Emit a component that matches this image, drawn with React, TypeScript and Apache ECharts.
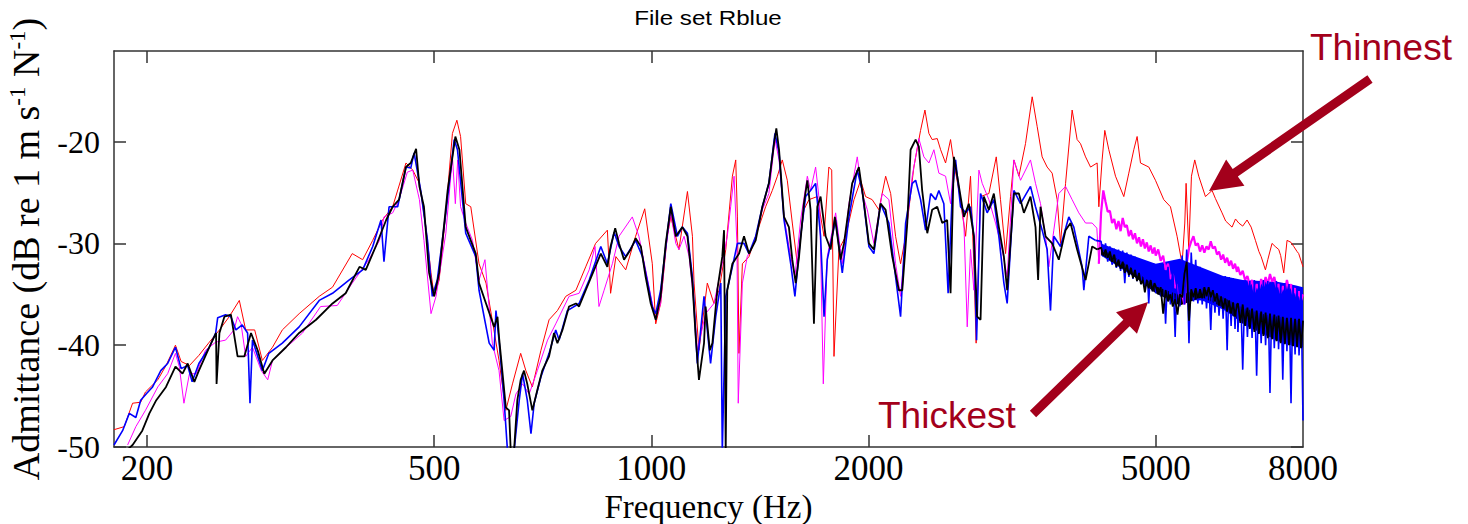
import React, { useEffect, useRef } from "react";
import * as echarts from "echarts";

// ---- axis values ----
const xTickValues = [200, 500, 1000, 2000, 5000];
const xLabelValues = [200, 500, 1000, 2000, 5000, 8000];
const yTickValues = [-50, -40, -30, -20];

// ---- series: [frequency Hz, admittance dB] ----
const redLow: [number, number][] = [
  [180, -48.3], [186, -48.0], [191, -45.7], [196, -45.6], [199, -44.6], [207, -43.4], [212.5, -42.0], [219, -40.0],
  [223, -41.6], [229, -42.0], [236, -41.0], [244, -39.7], [252, -38.5], [260, -37.2], [268.5, -35.6], [274, -38.5],
  [282, -38.5], [289, -41.5], [298.5, -40.2], [308, -38.5], [325, -36.9], [346.5, -35.2], [361.5, -34.3], [385, -31.0],
  [398, -31.6], [411, -29.7], [424, -27.7], [438, -26.4], [457, -22.1], [467, -22.8], [477, -24.1], [487, -28.4],
  [495, -32.9], [500, -35.2], [508, -33.6], [519, -27.0], [530, -19.2], [537.6, -17.9], [544, -19.5], [553, -26.1],
  [562, -26.4], [577, -32.0], [590, -33.9], [615, -41.5], [628.5, -46.4], [642, -43.8], [659, -40.8], [670, -42.5],
  [684, -44.1], [703, -40.5], [721.5, -37.5], [741, -36.6], [761, -35.2], [786, -34.6], [811, -32.3], [837, -30.0],
  [869, -28.7], [878, -34.9], [893, -31.3], [921.5, -32.6], [951, -29.3], [979, -26.6], [1003, -32.0], [1014, -37.9],
  [1030, -35.9], [1052, -29.3], [1064, -27.4], [1092, -30.6], [1122, -24.9], [1140, -29.3], [1146, -33.9], [1164, -40.5],
  [1195.5, -33.9], [1221, -35.9], [1241, -34.6], [1268, -30.6], [1295, -23.4], [1309, -21.8], [1316, -27.4], [1322.6, -40.8],
  [1337, -32.0], [1365.5, -31.3], [1395, -29.3], [1440, -26.4], [1471, -24.8], [1495, -23.4], [1518.5, -21.8], [1543, -23.8],
  [1568, -28.0], [1593, -32.0], [1627, -26.7], [1653.5, -25.7], [1698, -25.4], [1735, -29.3], [1762, -22.5], [1778, -22.8],
  [1791, -41.1], [1819.5, -30.6], [1859, -29.3], [1909, -25.7], [1950, -23.8], [1981, -25.4], [2023, -25.7], [2067, -26.7],
  [2112, -23.4], [2146, -25.1], [2180, -29.3], [2215, -32.0], [2251, -29.3], [2311, -22.5], [2361, -18.9], [2394, -16.9],
  [2424.5, -19.2], [2450, -19.8], [2490, -19.7], [2517, -20.8], [2557, -22.1], [2598, -19.8], [2626, -22.1], [2668, -24.8],
  [2726, -29.3], [2769, -23.4], [2799, -32.3], [2819, -39.8], [2859, -25.4], [2936, -25.1], [3006, -21.5], [3047, -25.7],
  [3096.5, -31.0], [3146, -25.4], [3180, -21.8], [3231, -23.4], [3300, -20.2], [3371, -15.6], [3425, -18.5], [3480, -21.5],
  [3536, -22.5], [3593, -23.1], [3651, -25.7], [3690, -30.0], [3750, -24.1], [3829.5, -16.9], [3891, -19.8], [3933, -20.2],
  [3997, -21.5], [4061, -22.5], [4147.5, -22.1], [4170, -26.4], [4214, -21.8], [4250, -18.9], [4305, -20.8], [4398, -23.4],
  [4516, -25.4], [4588.5, -23.1], [4662, -20.8], [4712, -19.5], [4763, -22.1], [4891, -22.5], [4996, -23.8], [5130, -25.7],
  [5241, -26.4], [5353, -29.3], [5439, -32.0], [5486, -28.0], [5509, -24.1], [5556, -30.6], [5604, -23.4], [5663, -21.8],
  [5736, -23.4], [5860, -25.4], [5985, -24.8], [6050, -25.6], [6179, -27.0], [6250, -27.8], [6379, -28.4], [6450, -27.6],
  [6517, -28.0], [6600, -28.3], [6692, -27.7], [6780, -28.4], [6873, -29.7], [6950, -30.8], [7000, -31.3], [7096, -32.6],
  [7150, -31.6], [7247, -30.0], [7320, -30.3], [7404, -30.6], [7450, -31.2], [7523, -32.9], [7603, -29.7], [7700, -29.9],
  [7767, -30.3], [7850, -30.8], [7891, -31.0], [8000, -32.3],
];

const magentaLow: [number, number][] = [
  [188, -49.8], [193, -48.0], [199, -46.4], [207, -44.1], [213.6, -42.8], [219, -40.8], [221.7, -42.1], [225, -45.7],
  [229, -42.8], [234, -42.8], [241, -40.5], [249, -39.7], [257, -39.5], [264, -38.5], [267, -37.2], [270, -37.9],
  [274, -41.1], [280, -40.2], [288, -42.5], [294, -43.4], [298.5, -41.5], [312, -40.2], [328.5, -38.8], [348, -36.2],
  [367, -36.1], [385, -33.9], [406, -31.6], [420, -29.7], [426, -27.4], [438, -27.0], [447, -25.7], [459, -23.0],
  [467, -22.8], [477, -25.7], [484, -29.7], [495, -36.9], [503, -35.2], [519, -29.0], [530, -21.5], [535, -26.1],
  [539, -21.8], [544, -26.4], [553, -28.0], [565, -29.7], [577, -33.6], [588, -31.6], [602, -39.8], [615, -42.5],
  [625, -47.4], [638.5, -47.0], [649, -44.8], [663, -43.8], [677, -44.8], [695, -42.5], [718, -39.5], [737, -37.9],
  [769, -35.2], [794, -34.9], [820, -32.6], [835.5, -30.3], [846, -36.2], [860, -34.6], [883, -32.0], [902, -29.3],
  [941, -27.4], [961, -29.3], [982, -32.6], [1003, -35.9], [1014, -37.5], [1030, -35.9], [1047, -30.6], [1064, -27.0],
  [1081, -30.0], [1092, -30.6], [1110, -29.3], [1128, -31.3], [1146, -35.9], [1158, -40.5], [1189, -36.9], [1221, -35.9],
  [1254, -32.0], [1274, -29.3], [1288, -26.4], [1302, -23.4], [1314, -30.0], [1319.5, -45.7], [1337, -33.9], [1358, -31.3],
  [1387.5, -30.0], [1425, -26.7], [1455, -25.1], [1483.5, -19.8], [1503, -21.8], [1527, -27.4], [1560, -31.3], [1581, -33.3],
  [1610, -27.7], [1645, -23.4], [1662, -24.8], [1689, -22.5], [1711, -26.1], [1731, -43.8], [1753, -31.3], [1800.5, -27.0],
  [1839, -32.0], [1878.5, -26.1], [1929, -21.5], [1960, -25.1], [1992, -26.7], [2034, -30.0], [2089, -25.1], [2134, -25.7],
  [2180, -32.0], [2215, -35.2], [2251, -29.3], [2299, -23.4], [2348, -19.7], [2386, -21.5], [2424.5, -22.1], [2463.5, -20.8],
  [2503, -23.1], [2557, -23.4], [2598, -26.1], [2626, -21.8], [2668, -24.4], [2711, -28.0], [2740, -38.2], [2769, -30.6],
  [2799, -34.6], [2844, -22.8], [2874, -24.1], [2936, -25.7], [2999, -28.0], [3063, -30.6], [3112.5, -33.3], [3180, -21.8],
  [3248, -23.8], [3353, -21.8], [3407, -24.1], [3462, -26.1], [3518, -29.3], [3555, -32.3], [3612, -28.7], [3670, -25.1],
  [3750, -24.4], [3829.5, -25.7], [3912, -27.0], [3997, -28.0], [4082, -28.0], [4143.5, -28.5], [4170, -32.0],
];

const blueLow: [number, number][] = [
  [180, -49.8], [185, -48.4], [189, -46.7], [193, -47.1], [196, -45.4], [200, -44.7], [203.6, -44.1], [209, -42.5],
  [213.6, -41.8], [219, -40.2], [223, -42.3], [227.7, -42.0], [231, -43.6], [236, -41.8], [244, -40.2], [249, -38.8],
  [250.6, -37.3], [257, -37.0], [261.4, -37.2], [265.6, -38.5], [271, -38.0], [275.7, -38.8], [277.8, -45.7], [280, -39.5],
  [289, -42.5], [295, -40.8], [308, -39.8], [325, -38.2], [346.5, -35.6], [361.5, -34.9], [381, -33.6], [398, -32.6],
  [411, -30.3], [422, -27.7], [426, -31.8], [433, -26.4], [445, -26.4], [457, -22.5], [464, -22.6], [469, -21.1],
  [479, -24.8], [489.5, -29.7], [497, -35.2], [505, -33.6], [519, -27.0], [533, -19.8], [538.6, -20.8], [553, -29.0],
  [571, -31.3], [577, -34.6], [596, -39.8], [605.5, -40.5], [609, -36.6], [615, -39.5], [625, -45.4], [632, -50.5],
  [645, -50.5], [656, -45.4], [663, -42.8], [673, -45.4], [681, -48.7], [688, -45.7], [703, -43.1], [721.5, -40.8],
  [737, -38.5], [745, -39.5], [765, -36.6], [794, -35.9], [820, -33.6], [851, -30.3], [869, -32.0], [888, -28.9],
  [902, -30.3], [921.5, -31.3], [951, -29.7], [972, -31.3], [1003, -36.2], [1014, -36.9], [1030, -34.6], [1064, -26.1],
  [1086.5, -29.3], [1104, -28.4], [1122, -29.0], [1140, -33.3], [1158, -41.8], [1183, -35.2], [1208, -41.8], [1228, -37.2],
  [1248, -33.9], [1254, -50.5], [1268, -35.2], [1295, -32.3], [1316, -30.0], [1344, -30.0], [1365.5, -31.0], [1395, -29.3],
  [1425, -26.4], [1455, -24.1], [1483.5, -19.2], [1503, -21.1], [1527, -27.7], [1560, -32.0], [1581, -35.2], [1610, -29.3],
  [1636, -25.4], [1662, -24.8], [1689, -24.1], [1716, -29.3], [1735, -37.2], [1753, -31.6], [1800.5, -27.7], [1839, -32.9],
  [1878.5, -27.4], [1929, -22.8], [1960, -24.8], [2002, -30.3], [2034, -31.0], [2078, -26.1], [2134, -28.0], [2180, -33.3],
  [2215, -37.2], [2251, -28.0], [2299, -24.1], [2324, -23.8], [2361, -25.7], [2399, -28.7], [2438, -25.1], [2477, -25.7],
  [2503, -24.8], [2543, -26.1], [2578, -34.9], [2612, -25.1], [2640, -21.8], [2682, -26.4], [2726, -27.0], [2769, -26.4],
  [2799, -29.3], [2823, -39.5], [2859, -25.1], [2920, -27.0], [2983, -25.7], [3031, -29.3], [3080, -33.9], [3112.5, -35.9],
  [3180, -24.8], [3248, -26.1], [3353, -24.4], [3407, -26.4], [3480, -28.7], [3536, -30.6], [3574, -36.6], [3612, -29.3],
  [3690, -30.3], [3789, -27.4], [3850, -28.4], [3954, -32.3], [3975, -34.6], [4039, -29.3], [4126, -29.7],
];

const blackLow: [number, number][] = [
  [183, -51.0], [191, -49.8], [197, -48.4], [201.5, -46.7], [206, -45.4], [212.5, -44.1], [219, -42.1], [224, -42.8],
  [227.7, -41.8], [232.6, -43.6], [236, -42.5], [244, -40.2], [249.3, -38.8], [249.7, -43.8], [252, -38.8], [256, -37.2],
  [261.4, -37.0], [267, -41.1], [272.8, -41.1], [278.7, -38.8], [284.7, -40.5], [290.8, -42.8], [298.5, -41.5], [311.6, -40.2],
  [325, -38.8], [343, -37.5], [361.5, -35.9], [377, -34.9], [394, -32.3], [402, -32.6], [415, -30.3], [429, -27.7],
  [438, -26.4], [447, -25.7], [457, -22.5], [464, -22.1], [472, -20.7], [477, -24.4], [484, -26.4], [492, -32.9],
  [500, -35.2], [508, -32.9], [522, -24.8], [535, -19.5], [542, -20.8], [553, -28.4], [571, -31.0], [577, -33.9],
  [590, -35.9], [605.5, -38.2], [612, -37.2], [615, -39.2], [622, -42.8], [628.5, -46.1], [635, -46.4], [638.5, -50.5],
  [645, -50.5], [652, -45.4], [659, -43.4], [666, -42.5], [673, -43.8], [684, -46.4], [695, -44.4], [706, -42.5],
  [721.5, -41.1], [733, -38.8], [741, -39.8], [753, -38.5], [769, -36.2], [786, -35.9], [794, -36.2], [811, -34.6],
  [833, -32.6], [851, -31.0], [869, -32.3], [878, -30.3], [891, -28.5], [902, -30.0], [916.5, -31.6], [936, -30.6],
  [951, -29.5], [967, -30.3], [982, -33.3], [998, -35.9], [1014, -37.5], [1030, -35.2], [1047, -30.0], [1064, -26.4],
  [1081, -29.3], [1104, -28.4], [1122, -29.3], [1140, -33.9], [1152, -39.2], [1164, -43.4], [1183, -39.8], [1189, -36.2],
  [1205, -40.5], [1215, -39.8], [1234, -34.6], [1254, -31.3], [1261, -28.7], [1267.7, -50.5], [1274, -34.6], [1295, -32.0],
  [1323, -31.0], [1344, -29.3], [1365.5, -31.0], [1395, -29.7], [1425, -26.4], [1455, -24.1], [1479, -20.2], [1490, -18.7],
  [1503, -20.8], [1527, -27.4], [1551, -28.4], [1568, -31.6], [1585, -33.9], [1602, -31.3], [1627, -26.1], [1645, -23.8],
  [1662, -26.7], [1680, -37.9], [1698, -26.4], [1716, -25.4], [1744, -29.3], [1772, -30.6], [1796, -27.4], [1829, -31.6],
  [1849, -30.0], [1898, -24.1], [1939, -22.5], [1971, -26.1], [2002, -30.0], [2034, -30.6], [2078, -26.1], [2112, -26.7],
  [2157, -31.3], [2203, -34.6], [2227, -34.6], [2263, -28.0], [2287, -20.8], [2324, -19.8], [2348, -20.5], [2373, -24.8],
  [2412, -29.0], [2450, -26.7], [2490, -26.4], [2530, -28.0], [2570, -27.7], [2598, -34.9], [2626, -21.5], [2654, -23.4],
  [2711, -27.4], [2754, -26.1], [2799, -29.3], [2828, -37.2], [2859, -37.5], [2889.5, -25.4], [2936, -26.7], [2983, -25.1],
  [3031, -28.4], [3080, -31.3], [3112.5, -34.6], [3180, -25.1], [3231, -25.1], [3283, -27.0], [3353, -25.4], [3407, -28.4],
  [3435.5, -33.6], [3462, -26.4], [3518, -29.3], [3593, -30.0], [3670, -31.6], [3750, -28.7], [3810, -28.0], [3891, -30.6],
  [3997, -33.6], [4082, -30.3], [4150, -30.6],
];

// dense high-frequency part: shared frequency list, values per series
const hfFreq = [
  4200, 4230, 4260, 4290, 4320, 4350, 4380, 4410, 4440, 4470, 4500, 4530, 4560, 4590, 4620, 4650, 4680, 4710, 4740, 4770,
  4800, 4830, 4860, 4890, 4920, 4950, 4980,
  5000, 5040, 5080, 5120, 5160, 5200, 5240, 5280, 5320, 5360, 5400, 5440, 5480, 5520, 5560, 5600, 5640, 5680, 5720, 5760,
  5800, 5840, 5880, 5920, 5960, 6000, 6040, 6080, 6120, 6160, 6200, 6240, 6280, 6320, 6360, 6400, 6440, 6480,
  6500, 6550, 6600, 6650, 6700, 6750, 6800, 6850, 6900, 6950, 7000, 7050, 7100, 7150, 7200, 7250, 7300, 7350, 7400, 7450,
  7500, 7550, 7600, 7650, 7700, 7750, 7800, 7850, 7900, 7950, 8000,
];

const magentaHf = [
  -27.0, -24.8, -25.9, -26.9, -26.8, -28.0, -27.6, -28.6, -27.8, -28.8, -27.5, -28.4, -28.2, -29.3, -28.7, -29.6, -29.0, -30.0, -29.4, -30.3,
  -29.6, -30.5, -29.9, -30.8, -30.2, -31.0, -30.4,
  -31.2, -30.6, -31.7, -31.2, -32.6, -32.0, -33.5, -33.0, -34.4, -34.0, -35.4, -35.0, -36.0, -32.0, -30.5, -29.8, -29.3, -30.2, -30.0, -30.8,
  -30.2, -30.9, -30.3, -30.6, -29.8, -30.5, -30.3, -31.1, -30.8, -31.6, -31.1, -31.9, -31.4, -32.2, -31.7, -32.5, -32.0, -32.8,
  -32.3, -33.1, -32.7, -33.6, -33.2, -34.1, -33.6, -34.8, -34.0, -34.5, -33.5, -34.2, -33.3, -34.0, -33.0, -33.8, -33.3, -34.3, -34.0, -34.9,
  -34.2, -34.6, -33.6, -34.5, -34.0, -35.0, -34.4, -35.3, -34.7, -35.6, -35.0,
];

const blueHf = [
  -29.8, -31.3, -30.0, -31.8, -30.3, -32.1, -30.5, -32.4, -30.6, -32.7, -30.7, -33.9, -30.9, -33.3, -31.1, -33.5, -31.3, -33.7, -31.6, -34.0,
  -31.7, -34.2, -31.8, -35.9, -32.0, -34.7, -32.0,
  -34.9, -32.1, -35.2, -32.0, -37.9, -32.3, -36.0, -32.4, -39.2, -31.8, -36.2, -31.2, -36.0, -30.6, -39.8, -30.9, -35.7, -31.6, -35.9, -32.3,
  -36.0, -32.6, -36.4, -32.9, -38.5, -33.0, -36.8, -33.2, -37.1, -33.3, -37.4, -33.2, -40.5, -33.3, -38.1, -33.4, -38.4, -33.5,
  -38.7, -33.6, -42.4, -33.6, -39.2, -33.7, -39.3, -33.6, -43.0, -33.7, -39.8, -33.6, -40.0, -33.7, -44.7, -33.8, -40.3, -33.7, -40.4, -33.9,
  -43.4, -33.9, -40.6, -34.0, -45.7, -34.1, -40.9, -34.2, -41.0, -34.3, -47.4,
];

const blackHf = [
  -30.4, -31.2, -30.6, -31.4, -30.8, -31.8, -31.1, -32.3, -31.6, -32.5, -31.8, -32.9, -32.1, -33.1, -32.4, -33.4, -32.6, -33.7, -32.9, -34.0,
  -33.6, -34.8, -33.6, -34.4, -33.6, -34.7, -33.9,
  -34.2, -35.0, -34.3, -36.9, -34.6, -35.7, -35.0, -36.2, -35.5, -37.0, -35.0, -35.3, -33.0, -31.8, -37.6, -34.5, -35.3, -34.4, -35.4, -34.5,
  -35.4, -34.3, -35.2, -34.3, -35.3, -34.6, -35.7, -34.9, -36.1, -35.2, -36.4, -35.4, -36.7, -35.6, -36.9, -35.8, -37.2, -36.0,
  -35.9, -37.8, -36.0, -38.1, -36.3, -38.4, -36.4, -38.7, -36.6, -38.9, -36.7, -39.1, -36.8, -39.3, -36.9, -39.4, -37.0, -39.6, -37.1, -39.8,
  -37.2, -39.9, -37.3, -40.0, -37.3, -40.1, -37.4, -40.2, -37.4, -40.3, -37.6,
];

// solid core of the dense noise bands (upper and lower edges)
const coreFreq = [4200, 4600, 5000, 5400, 5800, 6200, 6600, 7000, 7400, 7800, 8000];
const blueCoreTop = [-30.0, -31.1, -32.0, -31.5, -32.4, -33.2, -33.6, -33.7, -33.8, -34.1, -34.3];
const blueCoreBottom = [-31.2, -33.0, -34.5, -35.5, -35.6, -36.5, -37.8, -38.8, -39.5, -40.0, -40.3];
const blackCoreTop = [-30.5, -32.3, -34.2, -35.1, -34.4, -35.3, -36.3, -36.9, -37.2, -37.5, -37.6];
const blackCoreBottom = [-31.1, -32.9, -34.9, -36.1, -35.3, -36.3, -37.9, -38.8, -39.6, -40.1, -40.2];

// high-frequency part of a series, joined to the last low-frequency point
const hfPart = (low: [number, number][], hf: number[]) =>
  [low[low.length - 1]].concat(
    hfFreq.map((f, i) => [f, hf[i]] as [number, number]).filter((p) => p[1] !== undefined)
  );

const ANNOT = "#A3001B";

function arrowPoints(tx: number, ty: number, px: number, py: number, w: number, hl: number, hw: number) {
  const dx = px - tx;
  const dy = py - ty;
  const L = Math.hypot(dx, dy);
  const ux = dx / L;
  const uy = dy / L;
  const nx = -uy;
  const ny = ux;
  const bx = px - ux * hl;
  const by = py - uy * hl;
  return [
    [tx + nx * w, ty + ny * w],
    [bx + nx * w, by + ny * w],
    [bx + nx * hw, by + ny * hw],
    [px, py],
    [bx - nx * hw, by - ny * hw],
    [bx - nx * w, by - ny * w],
    [tx - nx * w, ty - ny * w],
  ];
}

export default function App() {
  const ref = useRef<HTMLDivElement>(null);

  useEffect(() => {
    if (!ref.current) return;
    const chart = echarts.init(ref.current, null, { renderer: "svg" });
    const frame = { color: "#333", width: 1.5 };
    const serif = "'Liberation Serif', 'Times New Roman', serif";
    const sans = "'Liberation Sans', Arial, sans-serif";

    const lineSeries = (name: string, data: [number, number][], color: string, width: number) => ({
      name,
      type: "line",
      data,
      symbol: "none",
      silent: true,
      clip: true,
      xAxisIndex: 0,
      yAxisIndex: 0,
      lineStyle: { color, width },
      emphasis: { disabled: true },
    });

    // band between lower and upper edge, drawn as one polygon through the axes' scales
    const coreSeries = (name: string, top: number[], bottom: number[], color: string) => ({
      name,
      type: "custom",
      coordinateSystem: "cartesian2d",
      xAxisIndex: 0,
      yAxisIndex: 0,
      silent: true,
      clip: true,
      data: coreFreq.map((f, i) => [f, top[i], bottom[i]]),
      encode: { x: 0, y: [1, 2] },
      renderItem: (params: any, api: any) => {
        if (params.dataIndex !== 0) return null;
        const pts: number[][] = [];
        for (let i = 0; i < coreFreq.length; i++) pts.push(api.coord([coreFreq[i], top[i]]));
        for (let i = coreFreq.length - 1; i >= 0; i--) pts.push(api.coord([coreFreq[i], bottom[i]]));
        return { type: "polygon", shape: { points: pts }, style: { fill: color } };
      },
    });

    chart.setOption({
      animation: false,
      backgroundColor: "#fff",
      grid: { left: 114, right: 165, top: 51, bottom: 77, containLabel: false, outerBoundsMode: "none" },
      xAxis: [
        {
          type: "log",
          logBase: 10,
          min: 180,
          max: 8000,
          position: "bottom",
          axisLine: { show: true, onZero: false, lineStyle: frame },
          axisTick: { show: true, inside: true, length: 12, customValues: xTickValues, lineStyle: frame },
          minorTick: { show: false },
          splitLine: { show: false },
          axisLabel: {
            customValues: xLabelValues,
            formatter: (v: number) => String(Math.round(v)),
            fontFamily: serif,
            fontSize: 35,
            color: "#000",
            margin: 4,
          },
          name: "Frequency (Hz)",
          nameLocation: "middle",
          nameGap: 20,
          nameTextStyle: { fontFamily: serif, fontSize: 33, color: "#000" },
        },
        {
          type: "log",
          logBase: 10,
          min: 180,
          max: 8000,
          position: "top",
          axisLine: { show: true, onZero: false, lineStyle: frame },
          axisTick: { show: true, inside: true, length: 12, customValues: xTickValues, lineStyle: frame },
          minorTick: { show: false },
          splitLine: { show: false },
          axisLabel: { show: false },
        },
      ],
      yAxis: [
        {
          type: "value",
          min: -50,
          max: -11.1,
          position: "left",
          axisLine: { show: true, onZero: false, lineStyle: frame },
          axisTick: { show: true, inside: true, length: 12, customValues: yTickValues, lineStyle: frame },
          splitLine: { show: false },
          axisLabel: {
            customValues: yTickValues,
            fontFamily: serif,
            fontSize: 32,
            color: "#000",
            margin: 14,
          },
          name: "Admittance (dB re 1 m s{sup|-1} N{sup|-1})",
          nameLocation: "middle",
          nameRotate: 90,
          nameGap: 62,
          nameTextStyle: {
            fontFamily: serif,
            fontSize: 38,
            color: "#000",
            lineHeight: 40,
            rich: {
              sup: { fontFamily: serif, fontSize: 23, color: "#000", verticalAlign: "top", lineHeight: 23 },
            },
          },
        },
        {
          type: "value",
          min: -50,
          max: -11.1,
          position: "right",
          axisLine: { show: true, onZero: false, lineStyle: frame },
          axisTick: { show: true, inside: true, length: 12, customValues: yTickValues, lineStyle: frame },
          splitLine: { show: false },
          axisLabel: { show: false },
        },
      ],
      series: [
        lineSeries("Thinnest (red)", redLow, "#ff0000", 1),
        lineSeries("Magenta", magentaLow, "#ff00ff", 1),
        lineSeries("Magenta HF", hfPart(magentaLow, magentaHf), "#ff00ff", 2.2),
        lineSeries("Blue", blueLow, "#0000ff", 1.6),
        coreSeries("Blue band", blueCoreTop, blueCoreBottom, "#0000ff"),
        lineSeries("Blue HF", hfPart(blueLow, blueHf), "#0000ff", 1.6),
        lineSeries("Thickest (black)", blackLow, "#000000", 1.8),
        coreSeries("Black band", blackCoreTop, blackCoreBottom, "#000000"),
        lineSeries("Thickest HF", hfPart(blackLow, blackHf), "#000000", 1.8),
      ],
      graphic: [
        {
          type: "text",
          x: 708,
          y: 18,
          scaleX: 1.15,
          z: 100,
          style: {
            text: "File set Rblue",
            fontFamily: sans,
            fontSize: 21,
            fill: "#000",
            align: "center",
            verticalAlign: "middle",
            textAlign: "center",
            textVerticalAlign: "middle",
          },
        },
        {
          type: "text",
          x: 1310,
          y: 47,
          z: 100,
          style: {
            text: "Thinnest",
            fontFamily: sans,
            fontSize: 37,
            fill: ANNOT,
            align: "left",
            verticalAlign: "middle",
            textAlign: "left",
            textVerticalAlign: "middle",
          },
        },
        {
          type: "text",
          x: 878,
          y: 415,
          z: 100,
          style: {
            text: "Thickest",
            fontFamily: sans,
            fontSize: 37,
            fill: ANNOT,
            align: "left",
            verticalAlign: "middle",
            textAlign: "left",
            textVerticalAlign: "middle",
          },
        },
        {
          type: "polygon",
          z: 100,
          shape: { points: arrowPoints(1370, 79, 1209, 191, 4.5, 32, 16) },
          style: { fill: ANNOT },
        },
        {
          type: "polygon",
          z: 100,
          shape: { points: arrowPoints(1033, 414, 1148, 302, 4.5, 30, 15) },
          style: { fill: ANNOT },
        },
      ],
    });

    return () => chart.dispose();
  }, []);

  return (
    <div
      ref={ref}
      style={{ position: "fixed", left: 0, top: 0, width: 1468, height: 524, background: "#fff" }}
    />
  );
}
